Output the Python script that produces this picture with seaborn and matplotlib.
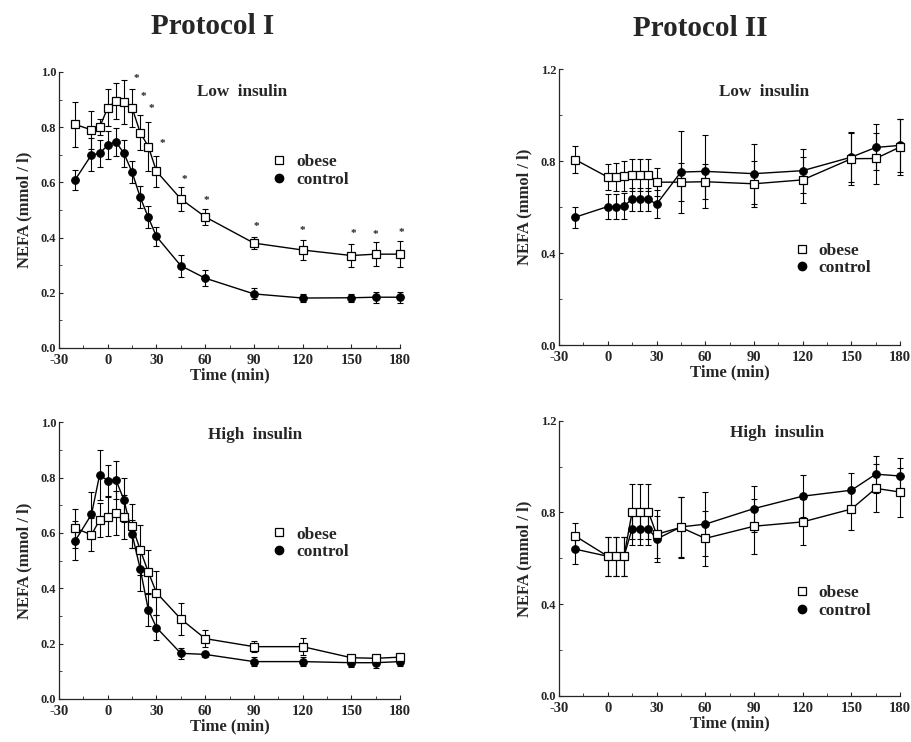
import numpy as np
import pandas as pd
import matplotlib
matplotlib.use("Agg")
import matplotlib.pyplot as plt
from matplotlib.lines import Line2D
from matplotlib.ticker import MultipleLocator
import seaborn as sns

sns.set_style("ticks")
plt.rcParams['font.family'] = ['Liberation Serif', 'DejaVu Serif']
plt.rcParams['font.weight'] = 'bold'
plt.rcParams['axes.unicode_minus'] = False

# --- data (NEFA, mmol/l) ---
t_p1 = [-20, -10, -5, 0, 5, 10, 15, 20, 25, 30, 45, 60, 90, 120, 150, 165, 180]
t_p2 = [-20, 0, 5, 10, 15, 20, 25, 30, 45, 60, 90, 120, 150, 165, 180]

# Protocol I, low insulin
p1_low_obese = [0.81, 0.79, 0.80, 0.87, 0.895, 0.89, 0.87, 0.78, 0.73, 0.64, 0.54, 0.475, 0.38, 0.355, 0.335, 0.34, 0.34]
p1_low_obese_err = [0.08, 0.07, 0.03, 0.067, 0.066, 0.08, 0.07, 0.063, 0.09, 0.055, 0.045, 0.03, 0.022, 0.035, 0.04, 0.043, 0.047]
p1_low_ctrl = [0.61, 0.70, 0.705, 0.735, 0.747, 0.705, 0.637, 0.546, 0.473, 0.404, 0.298, 0.253, 0.196, 0.181, 0.182, 0.184, 0.184]
p1_low_ctrl_err = [0.036, 0.06, 0.05, 0.05, 0.05, 0.05, 0.04, 0.04, 0.04, 0.035, 0.04, 0.03, 0.02, 0.015, 0.015, 0.02, 0.02]
star_t = [17.5, 22, 27, 33.5, 47, 61, 91.5, 120, 151, 165, 181]
star_y = [0.975, 0.91, 0.868, 0.74, 0.612, 0.533, 0.44, 0.425, 0.416, 0.412, 0.419]

# Protocol I, high insulin
p1_high_obese = [0.617, 0.593, 0.647, 0.659, 0.671, 0.657, 0.625, 0.539, 0.458, 0.384, 0.289, 0.218, 0.189, 0.189, 0.149, 0.147, 0.151]
p1_high_obese_err = [0.07, 0.06, 0.06, 0.07, 0.08, 0.08, 0.08, 0.09, 0.08, 0.08, 0.057, 0.03, 0.02, 0.03, 0.01, 0.01, 0.01]
p1_high_ctrl = [0.572, 0.667, 0.81, 0.789, 0.792, 0.719, 0.596, 0.47, 0.322, 0.258, 0.165, 0.161, 0.135, 0.135, 0.131, 0.131, 0.135]
p1_high_ctrl_err = [0.07, 0.08, 0.09, 0.055, 0.068, 0.08, 0.05, 0.08, 0.06, 0.045, 0.02, 0.01, 0.015, 0.015, 0.015, 0.02, 0.015]

# Protocol II, low insulin
p2_low_obese = [0.806, 0.73, 0.73, 0.733, 0.74, 0.74, 0.74, 0.708, 0.708, 0.71, 0.701, 0.718, 0.81, 0.811, 0.861]
p2_low_obese_err = [0.06, 0.058, 0.06, 0.065, 0.07, 0.07, 0.07, 0.06, 0.084, 0.077, 0.1, 0.1, 0.113, 0.11, 0.12]
p2_low_ctrl = [0.556, 0.602, 0.602, 0.605, 0.634, 0.634, 0.634, 0.612, 0.752, 0.755, 0.745, 0.758, 0.817, 0.859, 0.868]
p2_low_ctrl_err = [0.046, 0.054, 0.055, 0.055, 0.05, 0.05, 0.05, 0.06, 0.177, 0.16, 0.13, 0.095, 0.107, 0.1, 0.115]

# Protocol II, high insulin
p2_high_obese = [0.697, 0.609, 0.609, 0.609, 0.803, 0.803, 0.803, 0.705, 0.735, 0.687, 0.74, 0.759, 0.815, 0.905, 0.889]
p2_high_obese_err = [0.058, 0.085, 0.085, 0.085, 0.12, 0.12, 0.12, 0.105, 0.134, 0.12, 0.12, 0.1, 0.092, 0.105, 0.107]
p2_high_ctrl = [0.64, 0.609, 0.609, 0.609, 0.73, 0.73, 0.73, 0.684, 0.737, 0.749, 0.817, 0.871, 0.897, 0.967, 0.959]
p2_high_ctrl_err = [0.063, 0.085, 0.085, 0.085, 0.07, 0.07, 0.07, 0.1, 0.13, 0.14, 0.1, 0.092, 0.073, 0.08, 0.08]

panels = [
    # rect, times, obese, obese_err, ctrl, ctrl_err, ymax, ymajor, yminor, subtitle, sub_xy, legend_xy
    ([0.0647, 0.531, 0.374, 0.372], t_p1, p1_low_obese, p1_low_obese_err, p1_low_ctrl, p1_low_ctrl_err,
     1.0, 0.2, 0.1, "Low  insulin", (0.537, 0.927), (0.60, 0.64)),
    ([0.613, 0.535, 0.374, 0.372], t_p2, p2_low_obese, p2_low_obese_err, p2_low_ctrl, p2_low_ctrl_err,
     1.2, 0.4, 0.2, "Low  insulin", (0.60, 0.917), (0.665, 0.31)),
    ([0.0647, 0.058, 0.374, 0.373], t_p1, p1_high_obese, p1_high_obese_err, p1_high_ctrl, p1_high_ctrl_err,
     1.0, 0.2, 0.1, "High  insulin", (0.575, 0.953), (0.60, 0.562)),
    ([0.613, 0.062, 0.374, 0.371], t_p2, p2_high_obese, p2_high_obese_err, p2_high_ctrl, p2_high_ctrl_err,
     1.2, 0.4, 0.2, "High  insulin", (0.639, 0.956), (0.665, 0.343)),
]

fig = plt.figure(figsize=(9.12, 7.42), dpi=100)

for rect, times, ob, ob_err, ct, ct_err, ymax, ymaj, ymin, sub, sub_xy, leg_xy in panels:
    ax = fig.add_axes(rect)
    df = pd.DataFrame({"time": times, "obese": ob, "control": ct})

    ax.errorbar(times, ob, yerr=ob_err, fmt='none', ecolor='black', elinewidth=0.8,
                capsize=2, capthick=0.8, zorder=1, clip_on=False)
    ax.errorbar(times, ct, yerr=ct_err, fmt='none', ecolor='black', elinewidth=0.8,
                capsize=2, capthick=0.8, zorder=1, clip_on=False)
    sns.lineplot(data=df, x="time", y="control", ax=ax, color='black', linewidth=1.0,
                 marker='o', markersize=5.5, markerfacecolor='black', markeredgecolor='black',
                 zorder=3, clip_on=False)
    sns.lineplot(data=df, x="time", y="obese", ax=ax, color='black', linewidth=1.0,
                 marker='s', markersize=5.5, markerfacecolor='white', markeredgecolor='black',
                 markeredgewidth=0.9, zorder=4, clip_on=False)

    ax.set_xlim(-30, 180)
    ax.set_ylim(0, ymax)
    ax.set_xticks([-30, 0, 30, 60, 90, 120, 150, 180])
    ax.xaxis.set_minor_locator(MultipleLocator(15))
    ax.yaxis.set_major_locator(MultipleLocator(ymaj))
    ax.yaxis.set_minor_locator(MultipleLocator(ymin))
    ax.yaxis.set_major_formatter(plt.FormatStrFormatter('%.1f'))
    ax.tick_params(which='major', direction='in', length=3, width=0.8, pad=2)
    ax.tick_params(axis='x', which='major', labelsize=10.5, pad=4.5)
    ax.tick_params(axis='y', which='major', labelsize=9)
    ax.tick_params(which='minor', direction='in', length=2, width=0.6)
    for lab in ax.get_xticklabels() + ax.get_yticklabels():
        lab.set_fontweight('bold')
    sns.despine(ax=ax)
    for s in ['left', 'bottom']:
        ax.spines[s].set_linewidth(0.9)

    ax.set_xlabel("Time (min)", fontsize=12, fontweight='bold', labelpad=0)
    ax.set_ylabel("NEFA (mmol / l)", fontsize=12, fontweight='bold', labelpad=6)
    ax.text(sub_xy[0], sub_xy[1], sub, transform=ax.transAxes, ha='center', va='center',
            fontsize=12.3, fontweight='bold')

    handles = [Line2D([], [], linestyle='none', marker='s', markersize=6, markerfacecolor='white',
                      markeredgecolor='black', markeredgewidth=0.9),
               Line2D([], [], linestyle='none', marker='o', markersize=6, markerfacecolor='black',
                      markeredgecolor='black')]
    ax.legend(handles, ["obese", "control"], loc='center left', bbox_to_anchor=leg_xy,
              frameon=False, handlelength=0.8, handletextpad=0.6, labelspacing=0.1,
              borderpad=0, prop={'size': 12.5, 'weight': 'bold'})

    if ob is p1_low_obese:
        for st, sy in zip(star_t, star_y):
            ax.text(st, sy, "*", ha='center', va='center', fontsize=8, fontweight='bold')

fig.text(0.233, 0.964, "Protocol I", ha='center', va='center', fontsize=21, fontweight='bold')
fig.text(0.768, 0.961, "Protocol II", ha='center', va='center', fontsize=21, fontweight='bold')

plt.savefig("out.png", dpi=100)
plt.close()
